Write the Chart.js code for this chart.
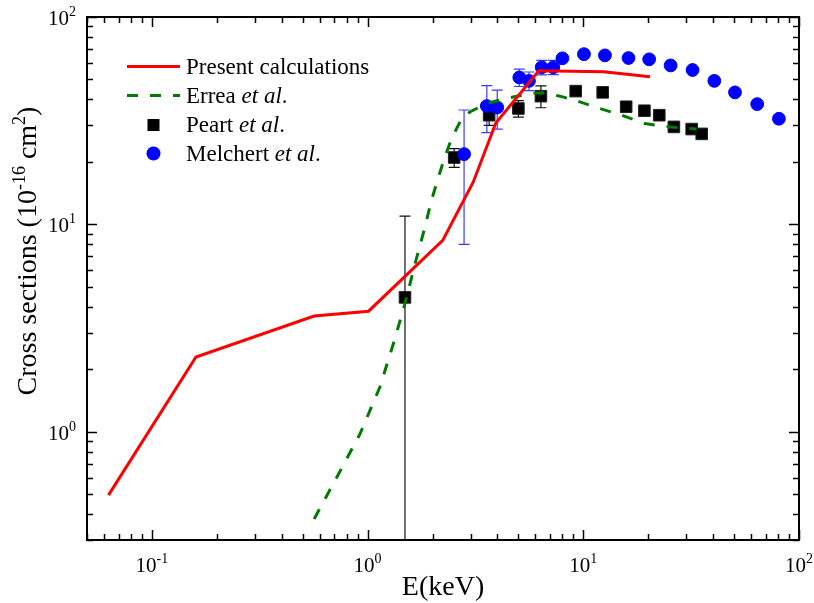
<!DOCTYPE html>
<html>
<head>
<meta charset="utf-8">
<script src="https://cdn.jsdelivr.net/npm/chart.js@4.4.0/dist/chart.umd.min.js"></script>
<style>
  body { margin: 0; background: #fff; }
  #chart { display: block; }
</style>
</head>
<body>
<canvas id="chart" width="814" height="603"></canvas>
<script>
// Present calculations
const presentE = [0.0629, 0.160, 0.565, 1.01, 2.23, 3.09, 3.93, 6.22, 12.4, 20.4];
const presentSigma = [0.494, 2.29, 3.61, 3.81, 8.37, 16.0, 30.8, 55.0, 54.4, 51.5];

// Errea et al.
const erreaE = [0.565, 0.719, 0.922, 1.14, 1.33, 1.49, 1.66, 1.81, 1.98, 2.13, 2.28, 2.45,
  2.73, 2.99, 3.57, 4.41, 5.66, 6.53, 7.80, 9.31, 11.9, 15.1, 19.3, 25.2, 33.5];
const erreaSigma = [0.379, 0.601, 0.975, 1.64, 2.75, 4.14, 6.46, 9.02, 13.1, 16.9, 21.1, 25.9,
  32.4, 34.9, 38.3, 40.5, 42.8, 43.1, 41.5, 39.4, 36.2, 33.6, 30.6, 29.5, 28.8];

// Peart et al. (with error bars)
const peartE = [1.49, 2.52, 3.66, 5.00, 6.36, 9.22, 12.3, 15.8, 19.2, 22.5, 26.3, 31.8, 35.4];
const peartSigma = [4.44, 21.0, 33.6, 36.2, 41.5, 43.9, 43.3, 36.9, 35.3, 33.6, 29.5, 28.8, 27.3];
const peartErr = [6.5, 2.2, 3.6, 3.3, 5.0, 0, 0, 0, 0, 0, 0, 0, 0];

// Melchert et al. (with error bars)
const melchertE = [2.80, 3.57, 3.99, 5.05, 5.60, 6.41, 7.26, 8.00, 10.07, 12.6, 16.2, 20.2,
  25.4, 32.1, 40.5, 50.5, 64.0, 80.7];
const melchertSigma = [21.8, 37.2, 36.6, 51.1, 49.2, 57.2, 57.2, 63.2, 66.2, 65.3, 63.4, 62.5,
  58.4, 55.5, 49.2, 43.3, 38.0, 32.3];
const melchertErr = [13.8, 9.5, 7.8, 4.9, 5.1, 4.6, 4.5, 0, 0, 0, 0, 0, 0, 0, 0, 0, 0, 0];

// decade labels drawn as 10^n
const xTickExps = [-1, 0, 1, 2];
const yTickExps = [0, 1, 2];

const FONT = '"Liberation Serif", "DejaVu Serif", serif';

function toPoints(xs, ys) {
  return xs.map((x, i) => ({ x: x, y: ys[i] }));
}

// draw "text" runs with optional superscripts, starting at x along baseline y
function drawRuns(ctx, runs, x, y) {
  runs.forEach((r) => {
    ctx.font = r.font;
    ctx.fillText(r.text, x, y - (r.rise || 0));
    x += ctx.measureText(r.text).width;
  });
}
function runsWidth(ctx, runs) {
  let w = 0;
  runs.forEach((r) => { ctx.font = r.font; w += ctx.measureText(r.text).width; });
  return w;
}

// vertical error bars, behind the markers
const errorBars = {
  id: "errorBars",
  beforeDatasetsDraw(chart) {
    const { ctx, chartArea } = chart;
    const ys = chart.scales.y, xs = chart.scales.x;
    ctx.save();
    ctx.beginPath();
    ctx.rect(chartArea.left, chartArea.top, chartArea.right - chartArea.left, chartArea.bottom - chartArea.top);
    ctx.clip();
    chart.data.datasets.forEach((ds) => {
      if (!ds.yErr) return;
      ctx.strokeStyle = ds.errColor;
      ctx.lineWidth = 1.2;
      ds.data.forEach((p, i) => {
        const e = ds.yErr[i];
        if (!e) return;
        const px = xs.getPixelForValue(p.x);
        const top = ys.getPixelForValue(p.y + e);
        const low = p.y - e;
        const bot = low > 0 ? ys.getPixelForValue(low) : chartArea.bottom + 5;
        ctx.beginPath();
        ctx.moveTo(px, top);
        ctx.lineTo(px, bot);
        ctx.moveTo(px - 5.5, top);
        ctx.lineTo(px + 5.5, top);
        if (low > 0) {
          ctx.moveTo(px - 5.5, bot);
          ctx.lineTo(px + 5.5, bot);
        }
        ctx.stroke();
      });
    });
    ctx.restore();
  },
};

// box, inward ticks, labels, titles and legend
const frame = {
  id: "frame",
  afterDraw(chart) {
    const { ctx, chartArea } = chart;
    const xs = chart.scales.x, ys = chart.scales.y;
    const L = chartArea.left, R = chartArea.right, T = chartArea.top, B = chartArea.bottom;
    ctx.save();
    ctx.strokeStyle = "#000";
    ctx.fillStyle = "#000";

    // ticks
    ctx.lineWidth = 1.5;
    ctx.beginPath();
    for (let d = -2; d <= 2; d++) {
      for (let k = 1; k <= 9; k++) {
        const v = k * Math.pow(10, d);
        const len = k === 1 ? 10 : 6;
        if (v >= xs.min * 0.999 && v <= xs.max * 1.001) {
          const px = Math.round(xs.getPixelForValue(v)) + 0.5;
          ctx.moveTo(px, B); ctx.lineTo(px, B - len);
          ctx.moveTo(px, T); ctx.lineTo(px, T + len);
        }
        if (v >= ys.min * 0.999 && v <= ys.max * 1.001) {
          const py = Math.round(ys.getPixelForValue(v)) + 0.5;
          ctx.moveTo(L, py); ctx.lineTo(L + len, py);
          ctx.moveTo(R, py); ctx.lineTo(R - len, py);
        }
      }
    }
    ctx.stroke();

    ctx.lineWidth = 2;
    ctx.strokeRect(L, T, R - L, B - T);

    // tick labels
    const base = "21px " + FONT, sup = "14px " + FONT;
    ctx.textAlign = "left";
    ctx.textBaseline = "alphabetic";
    xTickExps.forEach((n) => {
      const runs = [{ text: "10", font: base }, { text: String(n), font: sup, rise: 9 }];
      const px = xs.getPixelForValue(Math.pow(10, n));
      drawRuns(ctx, runs, px - runsWidth(ctx, runs) / 2, B + 32);
    });
    yTickExps.forEach((n) => {
      const runs = [{ text: "10", font: base }, { text: String(n), font: sup, rise: 9 }];
      const py = ys.getPixelForValue(Math.pow(10, n));
      drawRuns(ctx, runs, L - 11 - runsWidth(ctx, runs), py + 8);
    });

    // axis titles
    const tf = "28px " + FONT, ts = "18px " + FONT;
    const xTitle = [{ text: "E(keV)", font: tf }];
    drawRuns(ctx, xTitle, (L + R) / 2 - runsWidth(ctx, xTitle) / 2, 595);

    const yTitle = [
      { text: "Cross sections (10", font: tf },
      { text: "-16", font: ts, rise: 11 },
      { text: " cm", font: tf },
      { text: "2", font: ts, rise: 11 },
      { text: ")", font: tf },
    ];
    ctx.save();
    ctx.translate(36, 251);
    ctx.rotate(-Math.PI / 2);
    drawRuns(ctx, yTitle, -runsWidth(ctx, yTitle) / 2, 0);
    ctx.restore();

    // legend
    const lf = "23px " + FONT, li = "italic 23px " + FONT;
    const tx = 186;
    ctx.lineWidth = 3;
    ctx.strokeStyle = "#ff0000";
    ctx.beginPath(); ctx.moveTo(127, 66.5); ctx.lineTo(180, 66.5); ctx.stroke();
    drawRuns(ctx, [{ text: "Present calculations", font: lf }], tx, 74);

    ctx.strokeStyle = "#007a00";
    ctx.setLineDash([11, 12]);
    ctx.beginPath(); ctx.moveTo(127, 95.5); ctx.lineTo(180, 95.5); ctx.stroke();
    ctx.setLineDash([]);
    drawRuns(ctx, [{ text: "Errea ", font: lf }, { text: "et al", font: li }, { text: ".", font: lf }], tx, 103);

    ctx.fillStyle = "#000";
    ctx.fillRect(147.5, 119, 12, 12);
    drawRuns(ctx, [{ text: "Peart ", font: lf }, { text: "et al", font: li }, { text: ".", font: lf }], tx, 132);

    ctx.fillStyle = "#0000ff";
    ctx.beginPath(); ctx.arc(153.5, 153.5, 7, 0, Math.PI * 2); ctx.fill();
    ctx.fillStyle = "#000";
    drawRuns(ctx, [{ text: "Melchert ", font: lf }, { text: "et al", font: li }, { text: ".", font: lf }], tx, 161);

    ctx.restore();
  },
};

new Chart(document.getElementById("chart"), {
  type: "scatter",
  data: {
    datasets: [
      {
        label: "Present calculations",
        data: toPoints(presentE, presentSigma),
        showLine: true,
        borderColor: "#ff0000",
        borderWidth: 3,
        pointRadius: 0,
        order: 0,
      },
      {
        label: "Errea et al.",
        data: toPoints(erreaE, erreaSigma),
        showLine: true,
        borderColor: "#007a00",
        borderWidth: 3,
        borderDash: [11, 12],
        pointRadius: 0,
        order: 1,
      },
      {
        label: "Melchert et al.",
        data: toPoints(melchertE, melchertSigma),
        pointStyle: "circle",
        pointRadius: 6.4,
        pointBorderWidth: 1,
        backgroundColor: "#0000ff",
        borderColor: "#0000ff",
        yErr: melchertErr,
        errColor: "#3c3cff",
        order: 2,
      },
      {
        label: "Peart et al.",
        data: toPoints(peartE, peartSigma),
        pointStyle: "rect",
        pointRadius: 8.2,
        pointBorderWidth: 1,
        backgroundColor: "#000",
        borderColor: "#222",
        yErr: peartErr,
        errColor: "#111",
        order: 3,
      },
    ],
  },
  options: {
    responsive: false,
    animation: false,
    devicePixelRatio: 1,
    layout: { padding: { left: 87, top: 17, right: 15, bottom: 63 } },
    plugins: { legend: { display: false }, tooltip: { enabled: false } },
    scales: {
      x: { type: "logarithmic", min: 0.05, max: 100, display: false },
      y: { type: "logarithmic", min: 0.3, max: 100, display: false },
    },
  },
  plugins: [errorBars, frame],
});
</script>
</body>
</html>
